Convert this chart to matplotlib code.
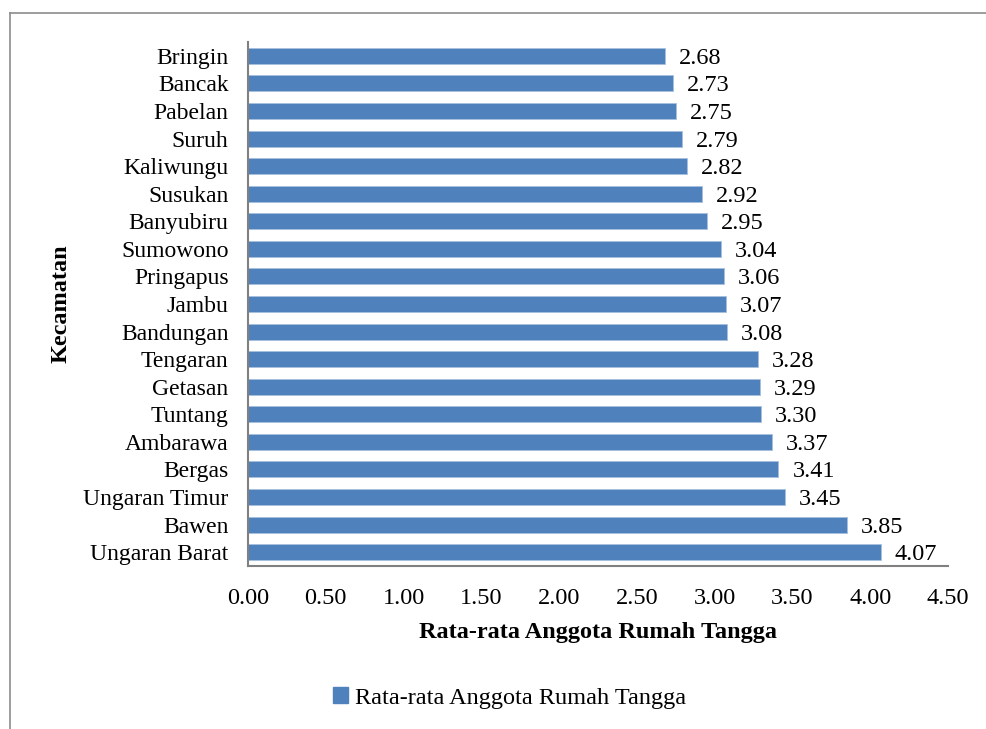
import matplotlib
matplotlib.use("Agg")
import matplotlib.pyplot as plt
from matplotlib.lines import Line2D

plt.rcParams['font.family'] = ['Liberation Serif', 'DejaVu Serif']

kecamatan = ["Bringin", "Bancak", "Pabelan", "Suruh", "Kaliwungu", "Susukan",
             "Banyubiru", "Sumowono", "Pringapus", "Jambu", "Bandungan",
             "Tengaran", "Getasan", "Tuntang", "Ambarawa", "Bergas",
             "Ungaran Timur", "Bawen", "Ungaran Barat"]
rata_rata = [2.68, 2.73, 2.75, 2.79, 2.82, 2.92, 2.95, 3.04, 3.06, 3.07, 3.08,
             3.28, 3.29, 3.30, 3.37, 3.41, 3.45, 3.85, 4.07]
x_ticks = [0.0, 0.5, 1.0, 1.5, 2.0, 2.5, 3.0, 3.5, 4.0, 4.5]
series_name = "Rata-rata Anggota Rumah Tangga"

FS = 17.5
W, H = 987, 729
fig = plt.figure(figsize=(W / 100, H / 100), dpi=100)
ax = fig.add_axes([248 / W, 1 - 566 / H, (948 - 248) / W, (566 - 42) / H])

bar_color = "#4F81BD"
ypos = list(range(len(kecamatan)))
ax.barh(ypos, rata_rata, height=0.58, color=bar_color,
        edgecolor="#A7C0DE", linewidth=0.6, label=series_name)
ax.set_ylim(len(kecamatan) - 0.5, -0.5)
ax.set_xlim(0, 4.5)
ax.set_yticks(ypos)
ax.set_yticklabels(kecamatan, fontsize=17)
ax.set_xticks(x_ticks)
ax.set_xticklabels([f"{v:.2f}" for v in x_ticks], fontsize=FS)
ax.tick_params(axis="both", length=0)
ax.tick_params(axis="y", pad=14)
ax.tick_params(axis="x", pad=16)

for y, v in zip(ypos, rata_rata):
    ax.annotate(f"{v:.2f}", (v, y), xytext=(10, 0), textcoords="offset points",
                va="center_baseline", ha="left", fontsize=FS)

for side in ("top", "right"):
    ax.spines[side].set_visible(False)
for side in ("left", "bottom"):
    ax.spines[side].set_color("#808080")
    ax.spines[side].set_linewidth(1.5)

ax.set_xlabel(series_name, fontsize=FS, fontweight="bold", labelpad=9)
ax.set_ylabel("Kecamatan", fontsize=FS, fontweight="bold")
ax.yaxis.set_label_coords((72 - 248) / (948 - 248), 0.5)

handle = plt.Rectangle((0, 0), 1, 1, color=bar_color)
fig.legend([handle], [series_name], loc="center", bbox_to_anchor=(510 / W, 1 - 698 / H),
           frameon=False, fontsize=FS, handlelength=0.6, handleheight=0.6,
           handletextpad=0.3)

# chart area border
fig.add_artist(Line2D([10 / W, 10 / W], [0, 1 - 13 / H], transform=fig.transFigure,
                      color="#8C8C8C", linewidth=1.2))
fig.add_artist(Line2D([10 / W, 1], [1 - 13 / H, 1 - 13 / H], transform=fig.transFigure,
                      color="#8C8C8C", linewidth=1.2))

fig.savefig("out.png", dpi=100, facecolor="white")
